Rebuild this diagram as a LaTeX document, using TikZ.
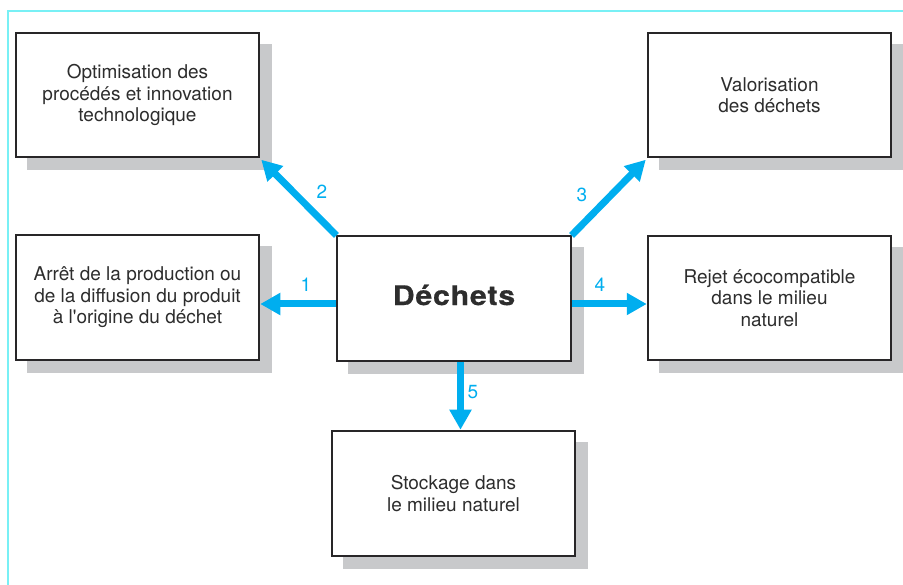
\documentclass[tikz,border=0pt]{standalone}
\usepackage{fontspec}
\setmainfont{TeX Gyre Heros}
\newfontfamily\decfont[FakeStretch=1.12,LetterSpace=3,FakeBold=0.6]{TeX Gyre Heros}
\usetikzlibrary{arrows.meta,backgrounds}
\definecolor{arrowcyan}{RGB}{0,174,239}
\definecolor{framecyan}{RGB}{120,240,245}
\definecolor{boxline}{RGB}{40,38,40}
\definecolor{shadowgray}{RGB}{200,201,203}
\definecolor{txtgray}{RGB}{45,45,45}
\tikzset{
  box/.style={draw=boxline, line width=2.5pt, fill=white, minimum width=243pt, minimum height=124pt,
    inner sep=0pt, align=center, text=txtgray, font=\fontsize{19}{21.5}\selectfont},
  flow/.style={draw=arrowcyan, line width=7pt, -{Triangle[length=20pt,width=21pt]}},
  num/.style={text=arrowcyan, font=\fontsize{19}{21}\selectfont, inner sep=0pt},
  frameline/.style={draw=framecyan, line width=1.5pt}
}
\begin{document}
\begin{tikzpicture}[x=1pt,y=-1pt]
\useasboundingbox (0,0) rectangle (903,585);
\draw[frameline] (8,585) -- (8,11) -- (903,11);

\node[box] (opt) at (137.5,95) {Optimisation des\\procédés et innovation\\technologique};
\node[box] (val) at (769.5,95) {Valorisation\\des déchets};
\node[box, minimum height=125pt] (arr) at (137.5,297.5) {Arrêt de la production ou\\de la diffusion du produit\\à l\textquotesingle origine du déchet};
\node[box, minimum width=234pt, minimum height=125pt] (dec) at (454,298.5) {};
\node[text=txtgray, inner sep=0pt, font=\decfont\bfseries\fontsize{27}{30}\selectfont] (dectxt) at (454,295) {Déchets};
\node[box] (rej) at (769.5,298) {Rejet écocompatible\\dans le milieu\\naturel};
\node[box, minimum height=125pt] (sto) at (453.5,493.5) {Stockage dans\\le milieu naturel};

\begin{scope}[on background layer]
  \foreach \n in {opt,val,arr,dec,rej,sto}{
    \fill[shadowgray] ([shift={(12pt,-12pt)}]\n.south west) rectangle ([shift={(12pt,-12pt)}]\n.north east);
  }
\end{scope}

\coordinate (c5) at (460.5,0);
\draw[flow] ([yshift=-5.5pt]dec.west) -- ([yshift=-6.5pt]arr.west -| arr.east);
\draw[flow, shorten <=-1pt] (dec.north west) -- ([shift={(1pt,-1.5pt)}]opt.south east);
\draw[flow, shorten <=-1pt] (dec.north east) -- ([shift={(-1pt,-1.5pt)}]val.south west);
\draw[flow] ([yshift=-5.5pt]dec.east) -- ([yshift=-6pt]rej.west);
\draw[flow] (c5 |- dec.south) -- (c5 |- sto.north);

\node[num] (n1) at (306,285) {1};
\node[num] (n2) at (322,192) {2};
\node[num] (n3) at (582,195) {3};
\node[num] (n4) at (600,285) {4};
\node[num] (n5) at (473,392) {5};
\end{tikzpicture}
\end{document}
